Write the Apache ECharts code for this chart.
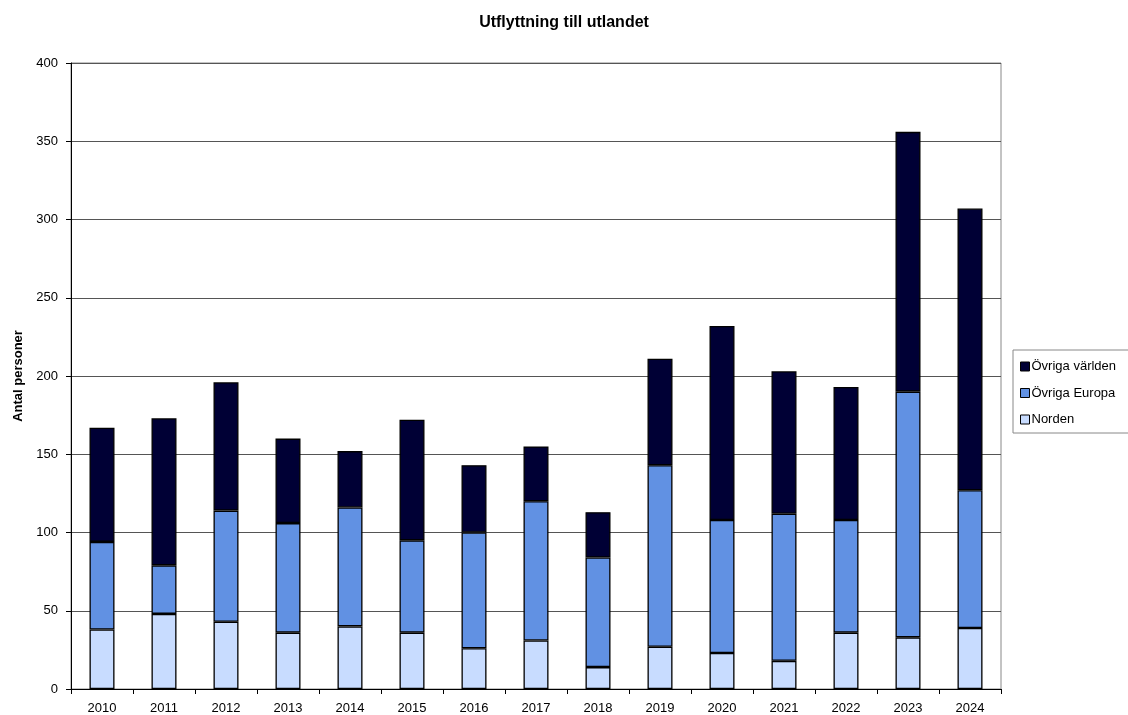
<!DOCTYPE html>
<html>
<head>
<meta charset="utf-8">
<script src="https://cdn.jsdelivr.net/npm/echarts@6/dist/echarts.min.js"></script>
<style>html,body{margin:0;padding:0;background:#fff}#c{width:1128px;height:715px}</style>
</head>
<body>
<div id="c"></div>
<script>
const years = ['2010','2011','2012','2013','2014','2015','2016','2017','2018','2019','2020','2021','2022','2023','2024'];
const norden = [38,48,43,36,40,36,26,31,14,27,23,18,36,33,39];
const ovrigaEuropa = [56,31,71,70,76,59,74,89,70,116,85,94,72,157,88];
const ovrigaVarlden = [73,94,82,54,36,77,43,35,29,68,124,91,85,166,180];
const yTicks = {min:0, max:400, interval:50};

const font = 'Liberation Sans, Arial, sans-serif';
const chart = echarts.init(document.getElementById('c'), null, {renderer:'canvas'});
function s(name, data, color){
  return {name, type:'bar', stack:'t', data, barWidth:25,
    itemStyle:{color, borderColor:'#000', borderWidth:1.3}};
}
chart.setOption({
  animation:false,
  title:{text:'Utflyttning till utlandet', left:'center', top:10,
    textStyle:{fontFamily:font, fontSize:16, fontWeight:'bold', color:'#000'}},
  grid:{left:71, right:127, top:63, bottom:26, show:true, borderColor:'#888', borderWidth:1},
  legend:{orient:'vertical', left:1013, top:350, data:['Övriga världen','Övriga Europa','Norden'],
    icon:'rect', itemWidth:9, itemHeight:9, itemGap:13.5, padding:[10,30,7,7],
    borderColor:'#888', borderWidth:1, backgroundColor:'#fff',
    itemStyle:{borderColor:'#000', borderWidth:1},
    textStyle:{fontFamily:font, fontSize:13, color:'#000', padding:[0,0,0,-3]}},
  xAxis:{type:'category', data:years,
    axisLine:{lineStyle:{color:'#000'}},
    axisTick:{show:true, alignWithLabel:false, length:5, lineStyle:{color:'#000'}},
    axisLabel:{fontFamily:font, fontSize:13, color:'#000', margin:13}},
  yAxis:{type:'value', min:yTicks.min, max:yTicks.max, interval:yTicks.interval,
    name:'Antal personer', nameLocation:'middle', nameGap:46, nameRotate:90,
    nameTextStyle:{fontFamily:font, fontSize:13, fontWeight:'bold', color:'#000'},
    axisLine:{show:true, lineStyle:{color:'#000'}},
    axisTick:{show:true, length:5, lineStyle:{color:'#000'}},
    splitLine:{lineStyle:{color:'#555', width:1}},
    axisLabel:{fontFamily:font, fontSize:13, color:'#000', margin:13}},
  series:[
    s('Norden', norden, '#C8DCFF'),
    s('Övriga Europa', ovrigaEuropa, '#6191E3'),
    s('Övriga världen', ovrigaVarlden, '#000035')
  ]
});
</script>
</body>
</html>
